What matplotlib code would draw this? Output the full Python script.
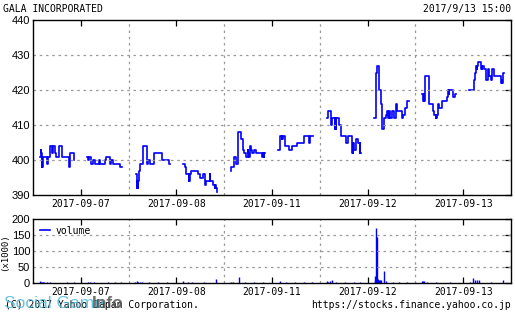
import matplotlib.pyplot as plt

# trading days shown on the chart
days = ['2017-09-07', '2017-09-08', '2017-09-11', '2017-09-12', '2017-09-13']

# price steps per day: minutes after 9:00 and price (yen)
d1_t = [0, 3, 6, 8, 10, 11, 13, 32, 36, 46, 53, 58, 65, 70, 84, 99, 128, 131, 134, 149,
        207, 212, 216, 226, 234, 241, 258, 263, 285, 289, 307, 311, 321, 354]
d1_p = [401, 403, 402, 398, 401, 398, 401, 399, 401, 404, 402, 404, 402, 401, 404, 401, 398, 401, 402, 400,
        401, 400, 401, 399, 400, 399, 400, 399, 400, 401, 399, 400, 399, 398]

d2_t = [2, 7, 9, 10, 11, 17, 21, 32, 51, 55, 65, 80, 116, 146,
        207, 216, 222, 234, 236, 237, 241, 244, 275, 285, 295, 304, 310, 326, 329, 339, 348, 350, 352, 357]
d2_p = [396, 392, 394, 392, 394, 397, 399, 404, 399, 400, 399, 402, 400, 399,
        399, 398, 396, 394, 396, 394, 396, 397, 396, 395, 396, 393, 394, 396, 394, 393, 392, 393, 392, 391]

d3_t = [0, 2, 14, 21, 29, 43, 51, 53, 58, 65, 73, 75, 80, 82, 84, 87, 90, 99, 109, 138, 141, 143, 146,
        207, 216, 222, 224, 226, 228, 237, 256, 267, 289, 319, 341, 348]
d3_p = [397, 398, 401, 399, 408, 406, 404, 403, 402, 401, 403, 402, 401, 402, 404, 403, 402, 403, 402, 401, 402, 401, 402,
        403, 407, 406, 407, 406, 407, 404, 403, 404, 405, 407, 405, 407]

d4_t = [2, 7, 21, 24, 36, 38, 40, 43, 53, 61, 84, 94, 112, 114, 116, 118, 122, 128, 140, 146, 147, 148,
        210, 215, 222, 231, 237, 241, 244, 253, 260, 267, 270, 272, 278, 288, 295, 304, 311, 329, 336, 346, 354]
d4_p = [412, 414, 410, 412, 409, 412, 409, 412, 410, 407, 405, 407, 402, 405, 402, 405, 403, 406, 405, 402, 405, 402,
        412, 425, 427, 420, 419, 416, 409, 412, 413, 414, 412, 414, 412, 414, 412, 416, 414, 412, 413, 415, 417]

d5_t = [0, 5, 7, 9, 13, 30, 46, 52, 59, 61, 62, 64, 71, 74, 85, 107, 115, 117, 119, 137, 144,
        207, 226, 234, 238, 240, 242, 244, 260, 261, 262, 263, 270, 278, 282, 289, 295, 304, 307, 314,
        348, 350, 352, 354, 357]
d5_p = [419, 417, 419, 417, 424, 416, 414, 413, 412, 413, 412, 413, 416, 415, 417, 418, 420, 419, 420, 418, 419,
        420, 423, 425, 427, 426, 427, 428, 426, 427, 426, 427, 426, 424, 423, 426, 424, 423, 426, 424,
        422, 423, 422, 423, 425]

# volume (x1000 shares): minutes after 9:00 and value
v1_t = [0, 3, 8, 12, 20, 30, 45, 60, 90, 120, 148, 210, 220, 240, 270, 300, 330, 355]
v1_v = [5, 3, 4, 2, 3, 2, 2, 1, 1, 2, 3, 3, 2, 2, 1, 2, 2, 3]
v2_t = [0, 5, 10, 20, 30, 60, 100, 140, 210, 230, 250, 300, 354]
v2_v = [4, 6, 3, 4, 3, 2, 2, 2, 6, 2, 2, 2, 12]
v3_t = [0, 10, 35, 60, 100, 140, 215, 240, 280, 320, 355]
v3_v = [3, 2, 19, 2, 2, 2, 7, 2, 2, 2, 3]
v4_t = [0, 5, 15, 25, 40, 80, 120, 148, 211, 213, 218, 222, 226, 230, 235, 239, 250, 260, 290, 320, 355]
v4_v = [6, 4, 5, 8, 4, 3, 2, 4, 8, 22, 171, 143, 12, 10, 9, 8, 37, 5, 3, 3, 4]
v5_t = [0, 3, 8, 20, 60, 120, 210, 223, 230, 240, 250, 300, 355]
v5_v = [6, 5, 6, 3, 2, 2, 3, 16, 8, 10, 8, 4, 10]

price_t = [d1_t, d2_t, d3_t, d4_t, d5_t]
price_p = [d1_p, d2_p, d3_p, d4_p, d5_p]
vol_t = [v1_t, v2_t, v3_t, v4_t, v5_t]
vol_v = [v1_v, v2_v, v3_v, v4_v, v5_v]


def xpos(day, minute):
    # each day runs 8:30 - 15:30 on the axis
    return day + (minute + 30) / 420.0


mono = 'DejaVu Sans Mono'
blue = '#0000ff'
grid_kw = dict(color='#999999', linestyle=(0, (2, 3)), linewidth=0.9)

fig = plt.figure(figsize=(5.15, 3.17), dpi=100)
ax = fig.add_axes([33 / 515, 122 / 317, 478 / 515, 175 / 317])
axv = fig.add_axes([33 / 515, 34 / 317, 478 / 515, 64 / 317])

for d in range(5):
    t = price_t[d]
    p = price_p[d]
    for lo, hi in [(0, 150), (180, 360)]:
        xs = [xpos(d, m) for m in t if lo - 10 <= m < hi]
        ys = [p[i] for i, m in enumerate(t) if lo - 10 <= m < hi]
        if not xs:
            continue
        xs.append(xpos(d, hi))
        ys.append(ys[-1])
        ax.plot(xs, ys, drawstyle='steps-post', color=blue, linewidth=1.2)
    vx = [xpos(d, m) for m in vol_t[d]]
    axv.vlines(vx, 0, vol_v[d], color=blue, linewidth=1.0)

for a in (ax, axv):
    a.set_xlim(0, 5)
    a.set_xticks([k + 0.5 for k in range(5)])
    a.set_xticklabels(days, fontfamily=mono, fontsize=7)
    a.tick_params(axis='x', direction='in', length=4, top=True, pad=3, width=0.9)
    a.tick_params(axis='y', direction='in', length=4, right=True, left=False, labelsize=8,
                  width=0.9, pad=2)
    for k in range(1, 5):
        a.axvline(k, **grid_kw)
    for s in a.spines.values():
        s.set_linewidth(1.0)
    for lab in a.get_yticklabels():
        lab.set_fontfamily('Liberation Sans')

ax.set_ylim(390, 440)
ax.set_yticks([390, 400, 410, 420, 430, 440])
for v in [400, 410, 420, 430]:
    ax.axhline(v, **grid_kw)

axv.set_ylim(0, 200)
axv.set_yticks([0, 50, 100, 150, 200])
for v in [50, 100, 150]:
    axv.axhline(v, **grid_kw)
fig.text(5 / 515, 1 - 252 / 317, '(x1000)', fontfamily=mono, fontsize=6.5, rotation=90,
         va='center', ha='center')
axv.plot([], [], color=blue, linewidth=1.2, label='volume')
axv.legend(loc='upper left', frameon=False, prop={'family': mono, 'size': 7},
           handlelength=1.0, handletextpad=0.6, borderaxespad=0.3)

fig.text(3 / 515, 1 - 9 / 317, 'GALA INCORPORATED', fontfamily=mono, fontsize=7, va='center')
fig.text(511 / 515, 1 - 9 / 317, '2017/9/13 15:00', fontfamily=mono, fontsize=7, va='center', ha='right')
fig.text(5 / 515, 1 - 305 / 317, '(C) 2017 Yahoo Japan Corporation.', fontfamily=mono, fontsize=7, va='center')
fig.text(511 / 515, 1 - 305 / 317, 'https://stocks.finance.yahoo.co.jp', fontfamily=mono, fontsize=7,
         va='center', ha='right')
# site watermark over the footer
fig.text(4 / 515, 1 - 304 / 317, 'Social Game', fontfamily='Liberation Sans', fontsize=12.5,
         color='#4fb8d8', alpha=0.85, va='center')
fig.text(92 / 515, 1 - 304 / 317, 'Info', fontfamily='Liberation Sans', fontsize=12.5, fontweight='bold',
         color='#555555', alpha=0.85, va='center')

fig.savefig('out.png', dpi=100)
